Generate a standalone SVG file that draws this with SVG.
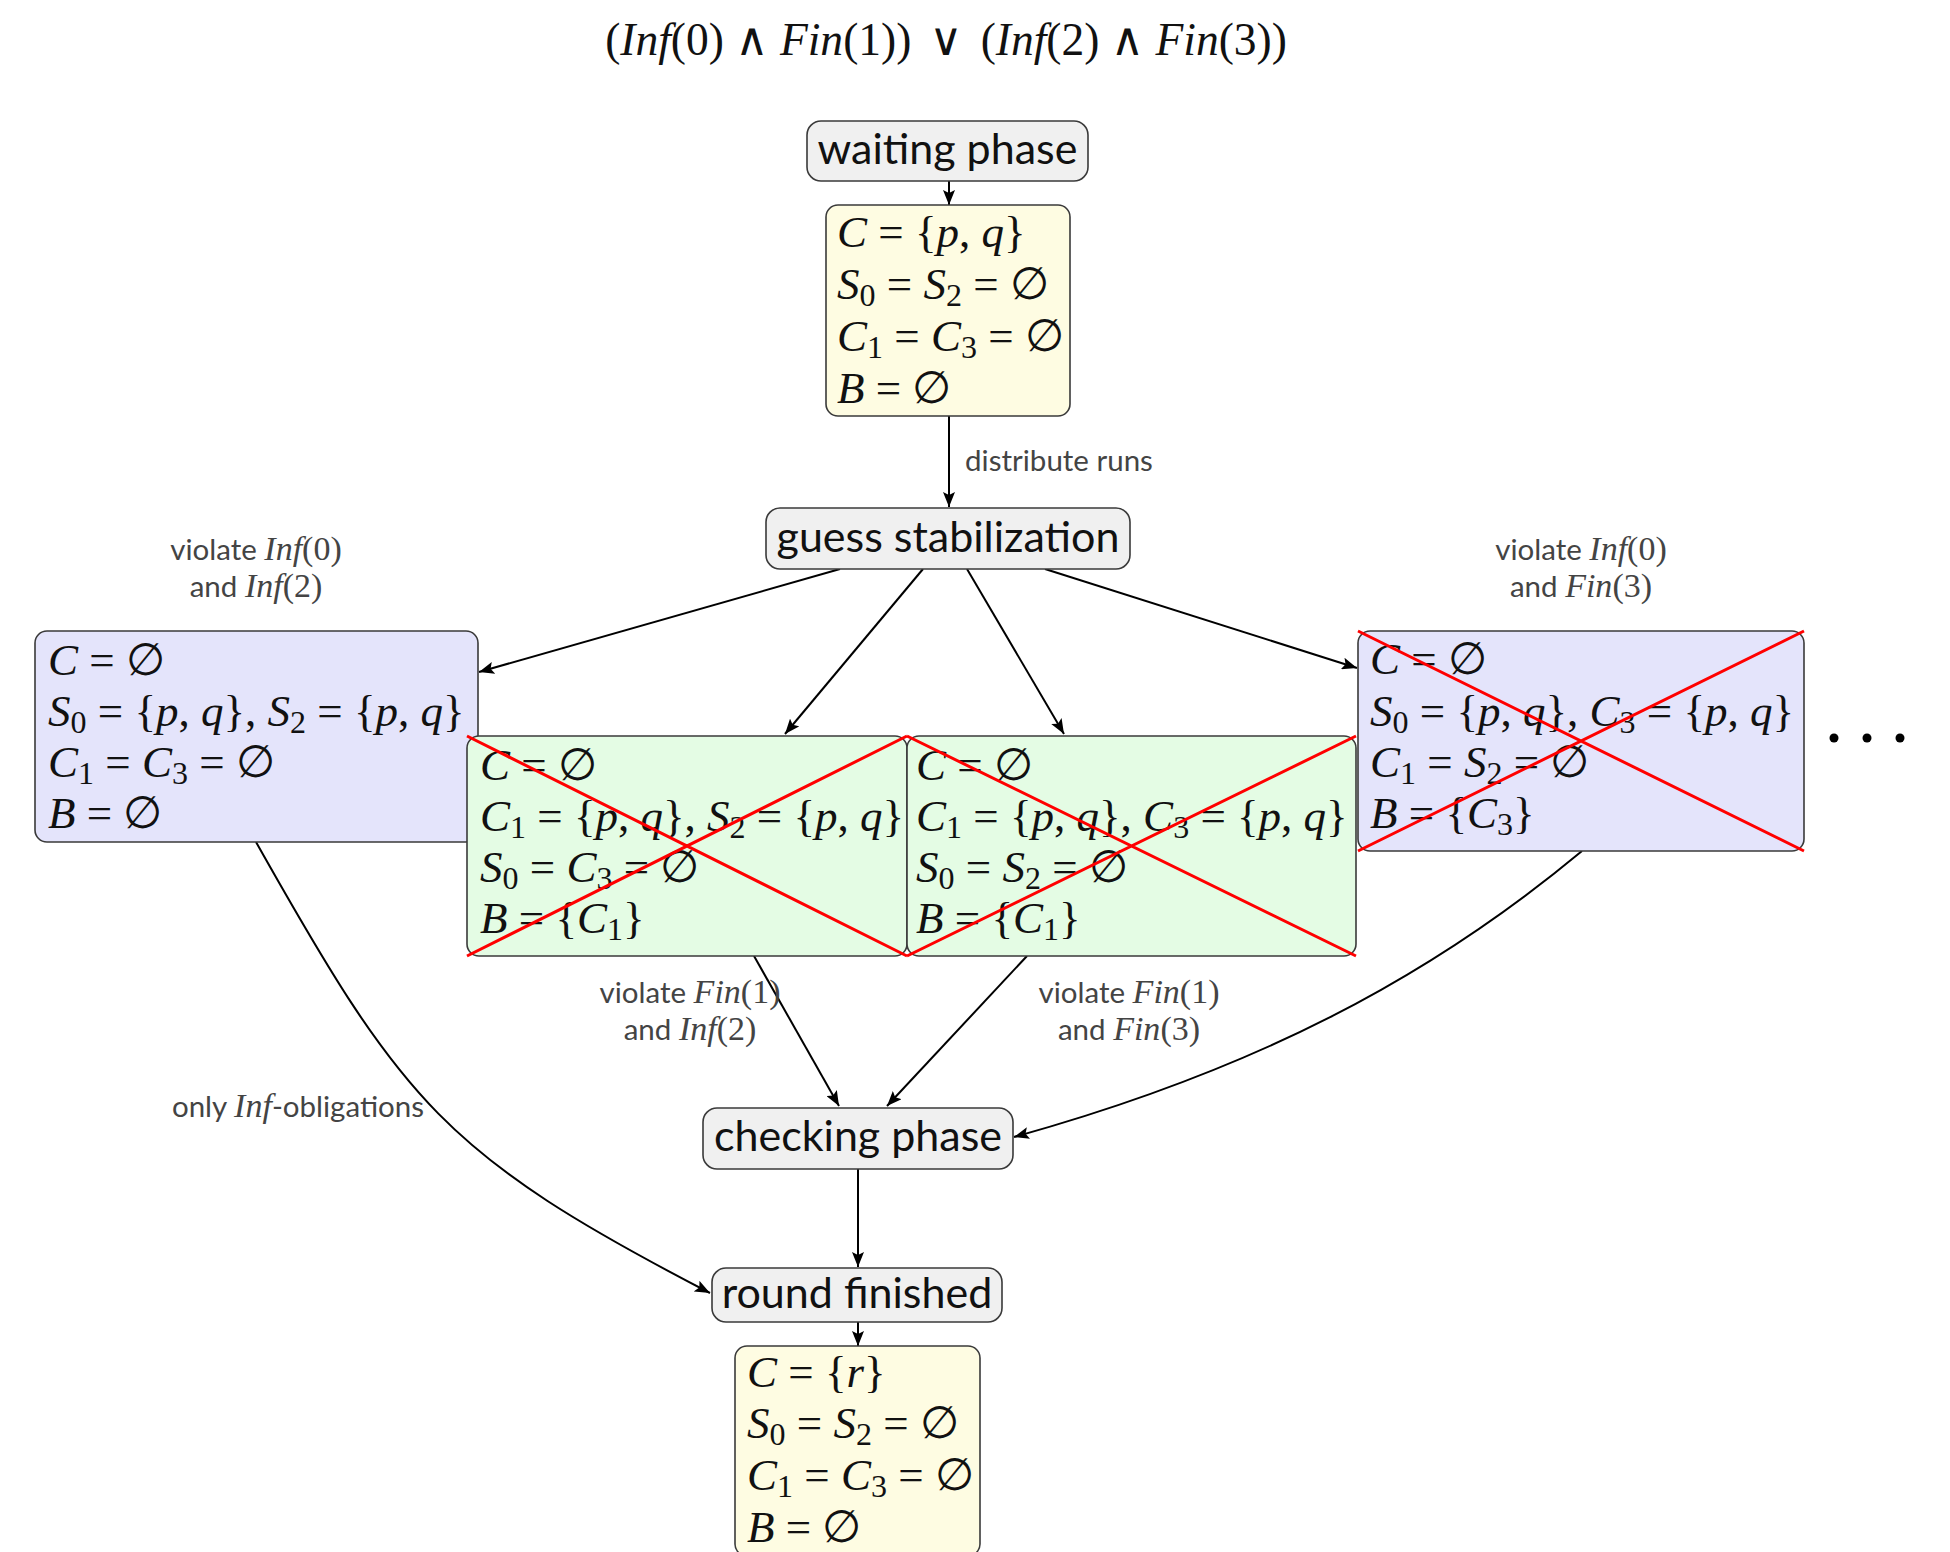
<svg xmlns="http://www.w3.org/2000/svg" width="1950" height="1552" viewBox="0 0 1950 1552">
<style>
.bx{stroke:#3a3a3a;stroke-width:1.6}
.lb{fill:#f0f0f0}
.yl{fill:#fefce2}
.bl{fill:#e4e4fb}
.gr{fill:#e4fce4}
.nt{font-family:Lato,"Open Sans",sans-serif;font-size:43px;fill:#111;text-anchor:middle}
.m{font-family:"Liberation Serif","DejaVu Serif",serif;font-size:45px;fill:#111}
.i{font-style:italic}
.s{font-size:32px}
.el{font-family:Lato,"Open Sans",sans-serif;font-size:29.5px;fill:#444;text-anchor:middle}
.em{font-family:"Liberation Serif","DejaVu Serif",serif;font-size:34px}
.cr{stroke:#ff0000;stroke-width:3;fill:none}
.ed{stroke:#000;stroke-width:2;fill:none;marker-end:url(#ah)}
.t{font-family:"Liberation Serif","DejaVu Serif",serif;font-size:45.5px;fill:#111;text-anchor:middle}
</style>
<defs>
<marker id="ah" markerUnits="userSpaceOnUse" markerWidth="16" markerHeight="12" refX="15" refY="6" orient="auto">
<path d="M0,0 L15,6 L0,12 L3,6 Z" fill="#000"/>
</marker>
</defs>
<rect width="1950" height="1552" fill="#fff"/>

<text id="title" class="t" x="946" y="55">(<tspan class="i">Inf</tspan>(0) ∧ <tspan class="i">Fin</tspan>(1))<tspan dx="18">∨</tspan><tspan dx="18">(</tspan><tspan class="i">Inf</tspan>(2) ∧ <tspan class="i">Fin</tspan>(3))</text>

<g id="edges">
<path class="ed" d="M949,181 L949,205"/>
<path class="ed" d="M949,416 L949,507"/>
<path class="ed" d="M840,569 L479,672"/>
<path class="ed" d="M923,569 L785,734"/>
<path class="ed" d="M967,569 L1064,734"/>
<path class="ed" d="M1045,569 L1357,668"/>
<path class="ed" d="M754,956 L839,1106"/>
<path class="ed" d="M1027,956 L887,1106"/>
<path class="ed" d="M1582,851 C1428,979 1255,1070 1014,1137"/>
<path class="ed" d="M858,1169 L858,1267"/>
<path class="ed" d="M256,842 C403,1103 444,1155 710,1293"/>
<path class="ed" d="M858,1322 L858,1346"/>
</g>

<g id="edge-labels">
<text class="el" x="1059" y="471">distribute runs</text>
<text class="el" x="256" y="560">violate <tspan class="em i">Inf</tspan><tspan class="em">(0)</tspan></text>
<text class="el" x="256" y="597">and <tspan class="em i">Inf</tspan><tspan class="em">(2)</tspan></text>
<text class="el" x="1581" y="560">violate <tspan class="em i">Inf</tspan><tspan class="em">(0)</tspan></text>
<text class="el" x="1581" y="597">and <tspan class="em i">Fin</tspan><tspan class="em">(3)</tspan></text>
<text class="el" x="690" y="1003">violate <tspan class="em i">Fin</tspan><tspan class="em">(1)</tspan></text>
<text class="el" x="690" y="1040">and <tspan class="em i">Inf</tspan><tspan class="em">(2)</tspan></text>
<text class="el" x="1129" y="1003">violate <tspan class="em i">Fin</tspan><tspan class="em">(1)</tspan></text>
<text class="el" x="1129" y="1040">and <tspan class="em i">Fin</tspan><tspan class="em">(3)</tspan></text>
<text class="el" x="298" y="1117">only <tspan class="em i">Inf</tspan>-obligations</text>
</g>

<g id="waiting">
<rect class="bx lb" x="807" y="121" width="281" height="60" rx="14"/>
<text class="nt" x="947.5" y="164">waiting phase</text>
</g>

<g id="state-initial">
<rect class="bx yl" x="826" y="205" width="244" height="211" rx="12"/>
<text class="m" x="837" y="247"><tspan class="i">C</tspan> = {<tspan class="i">p</tspan>, <tspan class="i">q</tspan>}</text>
<text class="m" x="837" y="299"><tspan class="i">S</tspan><tspan class="s" dy="7">0</tspan><tspan dy="-7"> = </tspan><tspan class="i">S</tspan><tspan class="s" dy="7">2</tspan><tspan dy="-7"> = ∅</tspan></text>
<text class="m" x="837" y="351"><tspan class="i">C</tspan><tspan class="s" dy="7">1</tspan><tspan dy="-7"> = </tspan><tspan class="i">C</tspan><tspan class="s" dy="7">3</tspan><tspan dy="-7"> = ∅</tspan></text>
<text class="m" x="837" y="403"><tspan class="i">B</tspan> = ∅</text>
</g>

<g id="guess">
<rect class="bx lb" x="766" y="508" width="364" height="61" rx="14"/>
<text class="nt" x="948" y="552">guess stabilization</text>
</g>

<g id="state-left">
<rect class="bx bl" x="35" y="631" width="443" height="211" rx="12"/>
<text class="m" x="48" y="675"><tspan class="i">C</tspan> = ∅</text>
<text class="m" x="48" y="726"><tspan class="i">S</tspan><tspan class="s" dy="7">0</tspan><tspan dy="-7"> = {</tspan><tspan class="i">p</tspan>, <tspan class="i">q</tspan>}, <tspan class="i">S</tspan><tspan class="s" dy="7">2</tspan><tspan dy="-7"> = {</tspan><tspan class="i">p</tspan>, <tspan class="i">q</tspan>}</text>
<text class="m" x="48" y="777"><tspan class="i">C</tspan><tspan class="s" dy="7">1</tspan><tspan dy="-7"> = </tspan><tspan class="i">C</tspan><tspan class="s" dy="7">3</tspan><tspan dy="-7"> = ∅</tspan></text>
<text class="m" x="48" y="828"><tspan class="i">B</tspan> = ∅</text>
</g>

<g id="state-green-left">
<rect class="bx gr" x="467" y="736" width="440" height="220" rx="12"/>
<text class="m" x="480" y="780"><tspan class="i">C</tspan> = ∅</text>
<text class="m" x="480" y="831"><tspan class="i">C</tspan><tspan class="s" dy="7">1</tspan><tspan dy="-7"> = {</tspan><tspan class="i">p</tspan>, <tspan class="i">q</tspan>}, <tspan class="i">S</tspan><tspan class="s" dy="7">2</tspan><tspan dy="-7"> = {</tspan><tspan class="i">p</tspan>, <tspan class="i">q</tspan>}</text>
<text class="m" x="480" y="882"><tspan class="i">S</tspan><tspan class="s" dy="7">0</tspan><tspan dy="-7"> = </tspan><tspan class="i">C</tspan><tspan class="s" dy="7">3</tspan><tspan dy="-7"> = ∅</tspan></text>
<text class="m" x="480" y="933"><tspan class="i">B</tspan> = {<tspan class="i">C</tspan><tspan class="s" dy="7">1</tspan><tspan dy="-7">}</tspan></text>
<path class="cr" d="M467,736 L907,956 M467,956 L907,736"/>
</g>

<g id="state-green-right">
<rect class="bx gr" x="907" y="736" width="449" height="220" rx="12"/>
<text class="m" x="916" y="780"><tspan class="i">C</tspan> = ∅</text>
<text class="m" x="916" y="831"><tspan class="i">C</tspan><tspan class="s" dy="7">1</tspan><tspan dy="-7"> = {</tspan><tspan class="i">p</tspan>, <tspan class="i">q</tspan>}, <tspan class="i">C</tspan><tspan class="s" dy="7">3</tspan><tspan dy="-7"> = {</tspan><tspan class="i">p</tspan>, <tspan class="i">q</tspan>}</text>
<text class="m" x="916" y="882"><tspan class="i">S</tspan><tspan class="s" dy="7">0</tspan><tspan dy="-7"> = </tspan><tspan class="i">S</tspan><tspan class="s" dy="7">2</tspan><tspan dy="-7"> = ∅</tspan></text>
<text class="m" x="916" y="933"><tspan class="i">B</tspan> = {<tspan class="i">C</tspan><tspan class="s" dy="7">1</tspan><tspan dy="-7">}</tspan></text>
<path class="cr" d="M907,736 L1356,956 M907,956 L1356,736"/>
</g>

<g id="state-right">
<rect class="bx bl" x="1358" y="631" width="446" height="220" rx="12"/>
<text class="m" x="1370" y="674"><tspan class="i">C</tspan> = ∅</text>
<text class="m" x="1370" y="726"><tspan class="i">S</tspan><tspan class="s" dy="7">0</tspan><tspan dy="-7"> = {</tspan><tspan class="i">p</tspan>, <tspan class="i">q</tspan>}, <tspan class="i">C</tspan><tspan class="s" dy="7">3</tspan><tspan dy="-7"> = {</tspan><tspan class="i">p</tspan>, <tspan class="i">q</tspan>}</text>
<text class="m" x="1370" y="777"><tspan class="i">C</tspan><tspan class="s" dy="7">1</tspan><tspan dy="-7"> = </tspan><tspan class="i">S</tspan><tspan class="s" dy="7">2</tspan><tspan dy="-7"> = ∅</tspan></text>
<text class="m" x="1370" y="828"><tspan class="i">B</tspan> = {<tspan class="i">C</tspan><tspan class="s" dy="7">3</tspan><tspan dy="-7">}</tspan></text>
<path class="cr" d="M1358,631 L1804,851 M1358,851 L1804,631"/>
</g>

<g id="ellipsis">
<circle cx="1834" cy="738" r="4.5" fill="#000"/>
<circle cx="1867" cy="738" r="4.5" fill="#000"/>
<circle cx="1900" cy="738" r="4.5" fill="#000"/>
</g>

<g id="checking">
<rect class="bx lb" x="703" y="1108" width="310" height="61" rx="14"/>
<text class="nt" x="858" y="1151">checking phase</text>
</g>

<g id="round">
<rect class="bx lb" x="712" y="1268" width="290" height="54" rx="14"/>
<text class="nt" x="857" y="1308">round finished</text>
</g>

<g id="state-final">
<rect class="bx yl" x="735" y="1346" width="245" height="210" rx="12"/>
<text class="m" x="747" y="1387"><tspan class="i">C</tspan> = {<tspan class="i">r</tspan>}</text>
<text class="m" x="747" y="1438"><tspan class="i">S</tspan><tspan class="s" dy="7">0</tspan><tspan dy="-7"> = </tspan><tspan class="i">S</tspan><tspan class="s" dy="7">2</tspan><tspan dy="-7"> = ∅</tspan></text>
<text class="m" x="747" y="1490"><tspan class="i">C</tspan><tspan class="s" dy="7">1</tspan><tspan dy="-7"> = </tspan><tspan class="i">C</tspan><tspan class="s" dy="7">3</tspan><tspan dy="-7"> = ∅</tspan></text>
<text class="m" x="747" y="1542"><tspan class="i">B</tspan> = ∅</text>
</g>
</svg>
